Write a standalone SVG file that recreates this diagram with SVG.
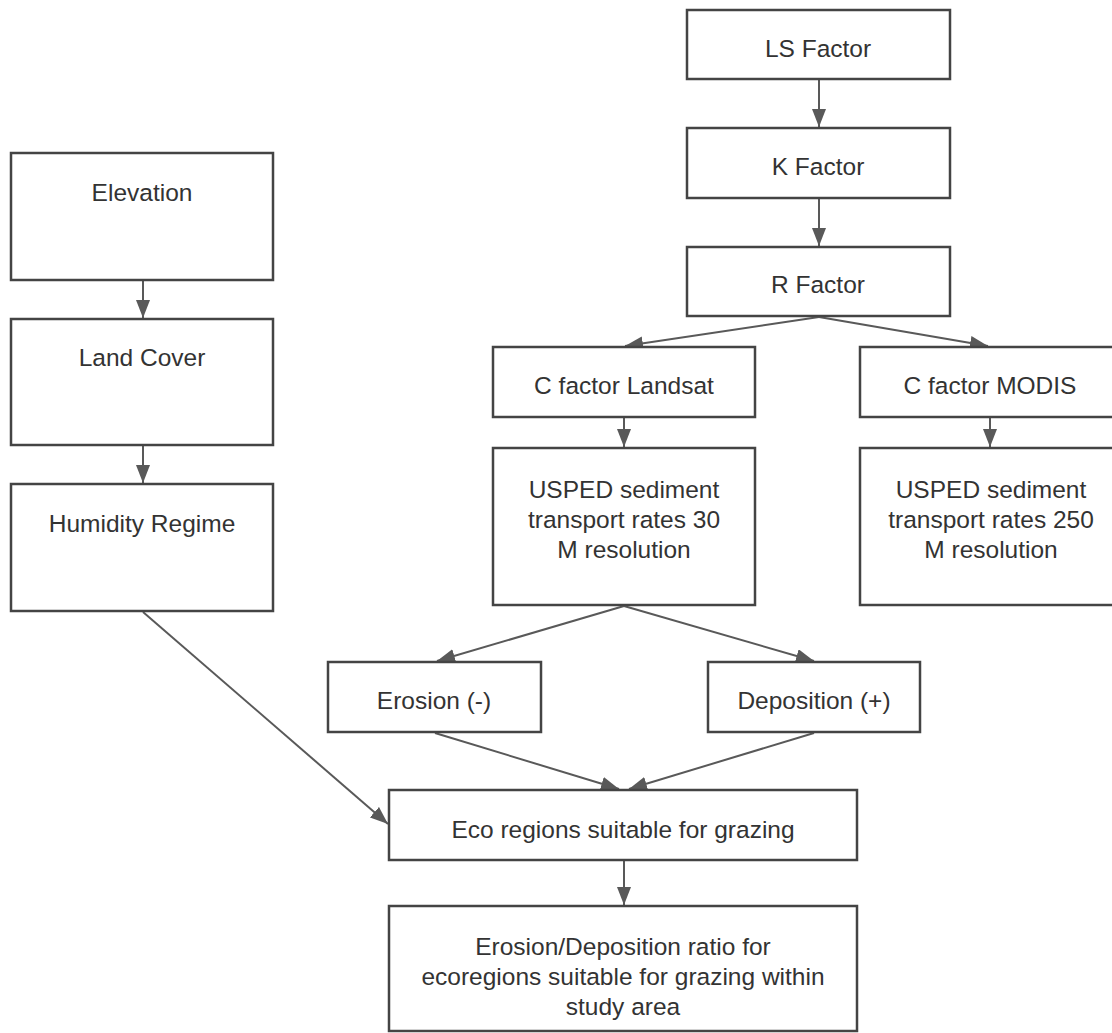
<svg xmlns="http://www.w3.org/2000/svg" width="1112" height="1033" viewBox="0 0 1112 1033">
<style>
.box{fill:#fff;stroke:#444;stroke-width:2.5}
.t{font-family:"Liberation Sans",Arial,sans-serif;font-size:24.5px;fill:#333;text-anchor:middle}
.c{stroke:#595959;stroke-width:2;fill:none;marker-end:url(#ah)}
</style>
<defs>
<marker id="ah" viewBox="0 0 18 14" refX="18" refY="7" markerWidth="18" markerHeight="14" markerUnits="userSpaceOnUse" orient="auto">
<path d="M0,0 L18,7 L0,14 z" fill="#595959"/>
</marker>
</defs>
<rect width="1112" height="1033" fill="#fff"/>
<g id="connectors">
<line class="c" x1="819" y1="80" x2="819" y2="127"/>
<line class="c" x1="819" y1="198" x2="819" y2="246"/>
<line class="c" x1="819" y1="317" x2="625" y2="346"/>
<line class="c" x1="819" y1="317" x2="988" y2="346"/>
<line class="c" x1="624" y1="418" x2="624" y2="447"/>
<line class="c" x1="990" y1="418" x2="990" y2="447"/>
<line class="c" x1="624" y1="606" x2="437" y2="661"/>
<line class="c" x1="624" y1="606" x2="814" y2="661"/>
<line class="c" x1="435" y1="733" x2="619" y2="789"/>
<line class="c" x1="814" y1="733" x2="629" y2="789"/>
<line class="c" x1="143" y1="612" x2="388" y2="824"/>
<line class="c" x1="624" y1="861" x2="624" y2="905"/>
<line class="c" x1="143" y1="281" x2="143" y2="318"/>
<line class="c" x1="143" y1="446" x2="143" y2="483"/>
</g>
<g id="ls"><rect class="box" x="687" y="10" width="263" height="69"/><text class="t" x="818" y="57">LS Factor</text></g>
<g id="k"><rect class="box" x="687" y="128" width="263" height="70"/><text class="t" x="818" y="175">K Factor</text></g>
<g id="r"><rect class="box" x="687" y="247" width="263" height="69"/><text class="t" x="818" y="293">R Factor</text></g>
<g id="elev"><rect class="box" x="11" y="153" width="262" height="127"/><text class="t" x="142" y="201">Elevation</text></g>
<g id="land"><rect class="box" x="11" y="319" width="262" height="126"/><text class="t" x="142" y="366">Land Cover</text></g>
<g id="hum"><rect class="box" x="11" y="484" width="262" height="127"/><text class="t" x="142" y="532">Humidity Regime</text></g>
<g id="cl"><rect class="box" x="493" y="347" width="262" height="70"/><text class="t" x="624" y="394">C factor Landsat</text></g>
<g id="cm"><rect class="box" x="860" y="347" width="262" height="70"/><text class="t" x="990" y="394">C factor MODIS</text></g>
<g id="u30"><rect class="box" x="493" y="448" width="262" height="157"/><text class="t" x="624" y="498">USPED sediment</text><text class="t" x="624" y="528">transport rates 30</text><text class="t" x="624" y="558">M resolution</text></g>
<g id="u250"><rect class="box" x="860" y="448" width="262" height="157"/><text class="t" x="991" y="498">USPED sediment</text><text class="t" x="991" y="528">transport rates 250</text><text class="t" x="991" y="558">M resolution</text></g>
<g id="ero"><rect class="box" x="328" y="662" width="213" height="70"/><text class="t" x="434" y="709">Erosion (-)</text></g>
<g id="dep"><rect class="box" x="708" y="662" width="212" height="70"/><text class="t" x="814" y="709">Deposition (+)</text></g>
<g id="eco"><rect class="box" x="389" y="790" width="468" height="70"/><text class="t" x="623" y="838">Eco regions suitable for grazing</text></g>
<g id="ratio"><rect class="box" x="389" y="906" width="468" height="125"/><text class="t" x="623" y="955">Erosion/Deposition ratio for</text><text class="t" x="623" y="985">ecoregions suitable for grazing within</text><text class="t" x="623" y="1015">study area</text></g>
</svg>
